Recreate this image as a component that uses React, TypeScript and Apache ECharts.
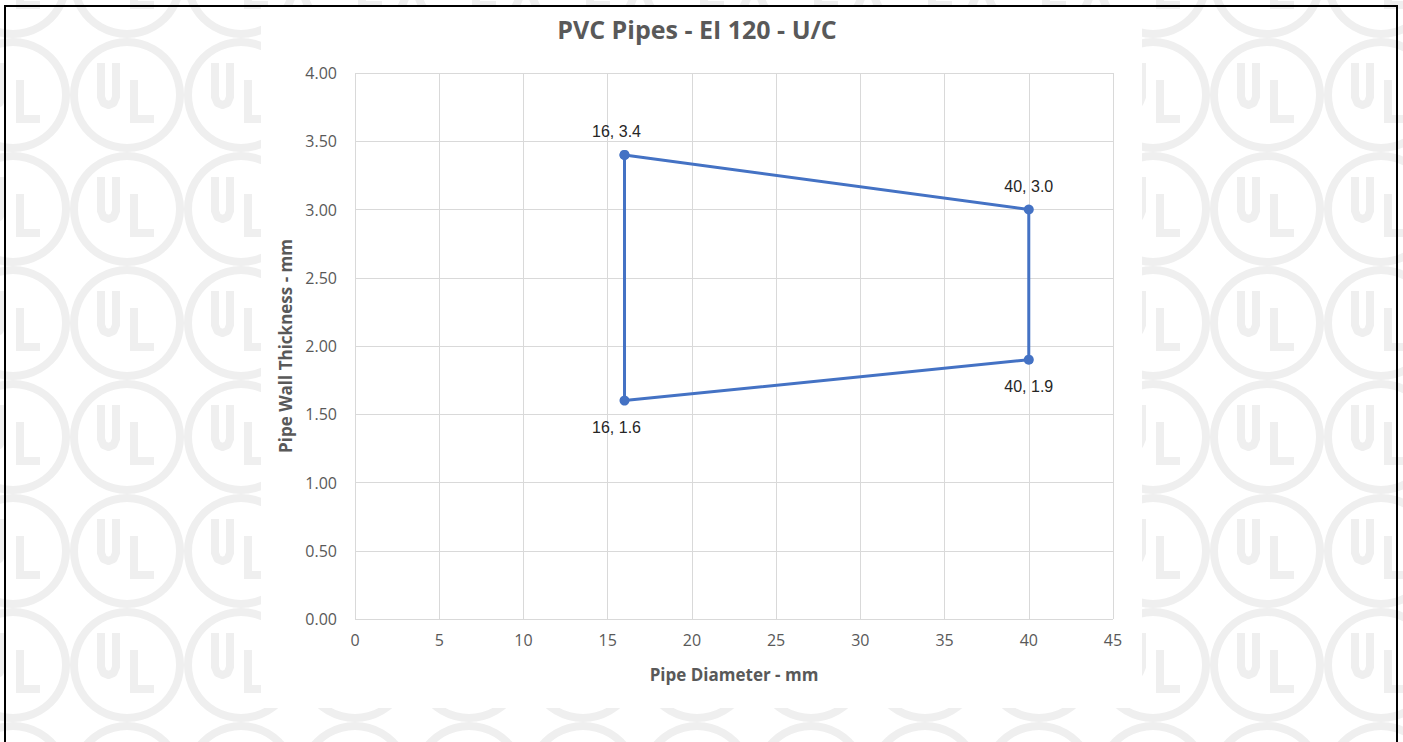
import React, { useEffect, useRef } from "react";
import * as echarts from "echarts";

const chartTitle = "PVC Pipes - EI 120 - U/C";
const xAxisName = "Pipe Diameter - mm";
const yAxisName = "Pipe Wall Thickness - mm";
// outline of the region, closed back to its first point
const pipeDiameter = [16, 40, 40, 16, 16];
const wallThickness = [3.4, 3.0, 1.9, 1.6, 3.4];
const xMin = 0, xMax = 45, xStep = 5;
const yMin = 0, yMax = 4, yStep = 0.5;

const W = 1403, H = 742;

function watermark(): any[] {
  const els: any[] = [];
  const col = "#efefef";
  const step = 114;
  for (let cy = 95 - step; cy < H + step; cy += step) {
    for (let cx = 127 - step; cx < W + step; cx += step) {
      els.push({ type: "ring", z: -10, silent: true, shape: { cx, cy, r: 57, r0: 49 }, style: { fill: col } });
      els.push({
        type: "polyline", z: -10, silent: true,
        shape: { points: [[cx - 26, cy - 32], [cx - 26, cy + 2], [cx - 23.5, cy + 8], [cx - 18.5, cy + 10], [cx - 13.5, cy + 8], [cx - 11, cy + 2], [cx - 11, cy - 32]] },
        style: { stroke: col, lineWidth: 8, fill: null, lineJoin: "round" },
      });
      els.push({
        type: "polyline", z: -10, silent: true,
        shape: { points: [[cx + 7, cy - 15], [cx + 7, cy + 24], [cx + 27, cy + 24]] },
        style: { stroke: col, lineWidth: 8, fill: null },
      });
    }
  }
  els.push({ type: "rect", z: -5, silent: true, shape: { x: 261, y: 6, width: 881, height: 702 }, style: { fill: "#ffffff" } });
  els.push({ type: "rect", z: 100, silent: true, shape: { x: 5, y: 6, width: 1392, height: 760 }, style: { fill: null, stroke: "#000", lineWidth: 2 } });
  return els;
}

export default function App() {
  const ref = useRef<HTMLDivElement>(null);
  useEffect(() => {
    if (!ref.current) return;
    const chart = echarts.init(ref.current, null, { renderer: "svg" });
    const xMid = (pipeDiameter[0] + pipeDiameter[1]) / 2;
    const data = pipeDiameter.map((x, i) => {
      const y = wallThickness[i];
      const isClosing = i === pipeDiameter.length - 1 && x === pipeDiameter[0] && y === wallThickness[0];
      const above = y > (yMin + yMax) / 2;
      return {
        value: [x, y],
        label: {
          show: !isClosing,
          position: above ? "top" : "bottom",
          distance: above ? 10 : 14,
          offset: [x < xMid ? -8 : 0, 0],
          formatter: `${x}, ${y.toFixed(1)}`,
        },
      };
    });
    const axisFont = { fontFamily: "Open Sans", fontSize: 16, color: "#595959" };
    chart.setOption({
      animation: false,
      backgroundColor: "#ffffff",
      title: {
        text: chartTitle,
        left: 692,
        top: 11,
        textAlign: "center",
        textStyle: { fontFamily: "Open Sans", fontWeight: "bold", fontSize: 25, color: "#595959" },
      },
      graphic: watermark(),
      grid: { left: 355, right: W - 1113, top: 73, bottom: H - 619, containLabel: false },
      xAxis: {
        type: "value",
        min: xMin, max: xMax, interval: xStep,
        name: xAxisName, nameLocation: "middle", nameGap: 47,
        nameTextStyle: { fontFamily: "Open Sans", fontWeight: "bold", fontSize: 17, color: "#595959" },
        axisLine: { show: false },
        axisTick: { show: false },
        axisLabel: { ...axisFont, margin: 13 },
        splitLine: { show: true, lineStyle: { color: "#d9d9d9", width: 1 } },
      },
      yAxis: {
        type: "value",
        min: yMin, max: yMax, interval: yStep,
        name: yAxisName, nameLocation: "middle", nameGap: 58, nameRotate: 90,
        nameTextStyle: { fontFamily: "Open Sans", fontWeight: "bold", fontSize: 17, color: "#595959" },
        axisLine: { show: false },
        axisTick: { show: false },
        axisLabel: { ...axisFont, margin: 18, formatter: (v: number) => v.toFixed(2) },
        splitLine: { show: true, lineStyle: { color: "#d9d9d9", width: 1 } },
      },
      series: [
        {
          type: "line",
          data,
          symbol: "circle",
          symbolSize: 10,
          itemStyle: { color: "#4472C4" },
          lineStyle: { color: "#4472C4", width: 3 },
          label: { fontFamily: "Liberation Sans", fontSize: 16, color: "#262626" },
        },
      ],
    });
    return () => chart.dispose();
  }, []);
  return <div ref={ref} style={{ position: "absolute", left: 0, top: 0, width: W, height: H }} />;
}
